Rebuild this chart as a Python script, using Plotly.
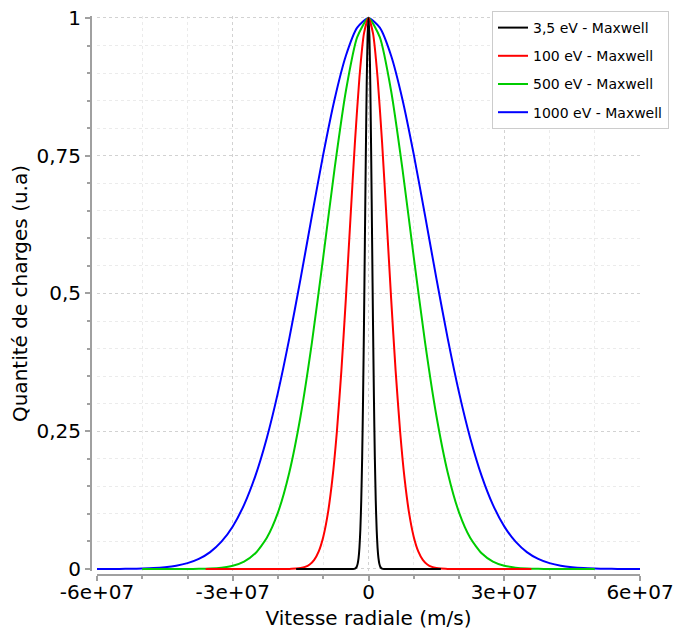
import plotly.graph_objects as go

# ---------------- data ----------------
x_black = [-1.6e7, -1.0e7, -5.0e6,
           -3.6e6, -3.4e6, -3.2e6, -3.0e6, -2.8e6, -2.6e6, -2.4e6, -2.2e6, -2.0e6,
           -1.8e6, -1.6e6, -1.4e6, -1.2e6, -1.0e6, -8.0e5, -6.0e5, -4.0e5, -2.0e5,
           0.0,
           2.0e5, 4.0e5, 6.0e5, 8.0e5, 1.0e6, 1.2e6, 1.4e6, 1.6e6, 1.8e6,
           2.0e6, 2.2e6, 2.4e6, 2.6e6, 2.8e6, 3.0e6, 3.2e6, 3.4e6, 3.6e6,
           5.0e6, 1.0e7, 1.6e7]
y_black = [0, 0, 0,
           0, 0.0001, 0.0002, 0.0007, 0.0017, 0.0041, 0.0093, 0.0196, 0.0388,
           0.0719, 0.1249, 0.2034, 0.3104, 0.4438, 0.5945, 0.7464, 0.8781, 0.9680,
           1.0,
           0.9680, 0.8781, 0.7464, 0.5945, 0.4438, 0.3104, 0.2034, 0.1249, 0.0719,
           0.0388, 0.0196, 0.0093, 0.0041, 0.0017, 0.0007, 0.0002, 0.0001, 0,
           0, 0, 0]

x_red = [-3.6e7, -3.0e7, -2.5e7,
         -2.0e7, -1.9e7, -1.8e7, -1.7e7, -1.6e7, -1.5e7, -1.4e7, -1.3e7, -1.2e7, -1.1e7,
         -1.0e7, -9.0e6, -8.0e6, -7.0e6, -6.0e6, -5.0e6, -4.0e6, -3.0e6, -2.0e6, -1.0e6,
         0.0,
         1.0e6, 2.0e6, 3.0e6, 4.0e6, 5.0e6, 6.0e6, 7.0e6, 8.0e6, 9.0e6, 1.0e7,
         1.1e7, 1.2e7, 1.3e7, 1.4e7, 1.5e7, 1.6e7, 1.7e7, 1.8e7, 1.9e7, 2.0e7,
         2.5e7, 3.0e7, 3.6e7]
y_red = [0, 0, 0,
         0, 0, 0.0001, 0.0003, 0.0007, 0.0017, 0.0038, 0.0082, 0.0167, 0.0320,
         0.0582, 0.0999, 0.1620, 0.2482, 0.3592, 0.4912, 0.6344, 0.7742, 0.8925, 0.9720,
         1.0,
         0.9720, 0.8925, 0.7742, 0.6344, 0.4912, 0.3592, 0.2482, 0.1620, 0.0999, 0.0582,
         0.0320, 0.0167, 0.0082, 0.0038, 0.0017, 0.0007, 0.0003, 0.0001, 0, 0,
         0, 0, 0]

x_green = [-5.0e7, -4.5e7,
           -4.0e7, -3.75e7, -3.5e7, -3.25e7, -3.0e7, -2.75e7, -2.5e7, -2.25e7,
           -2.0e7, -1.75e7, -1.5e7, -1.25e7, -1.0e7, -7.5e6, -5.0e6, -2.5e6,
           0.0,
           2.5e6, 5.0e6, 7.5e6, 1.0e7, 1.25e7, 1.5e7, 1.75e7, 2.0e7,
           2.25e7, 2.5e7, 2.75e7, 3.0e7, 3.25e7, 3.5e7, 3.75e7, 4.0e7,
           4.5e7, 5.0e7]
y_green = [0, 0,
           0.0001, 0.0003, 0.0009, 0.0025, 0.0060, 0.0136, 0.0286, 0.0562,
           0.1028, 0.1752, 0.2781, 0.4112, 0.5662, 0.7262, 0.8675, 0.9651,
           1.0,
           0.9651, 0.8675, 0.7262, 0.5662, 0.4112, 0.2781, 0.1752, 0.1028,
           0.0562, 0.0286, 0.0136, 0.0060, 0.0025, 0.0009, 0.0003, 0.0001,
           0, 0]

x_blue = [-6.0e7, -5.75e7, -5.5e7, -5.25e7, -5.0e7, -4.75e7, -4.5e7, -4.25e7,
          -4.0e7, -3.75e7, -3.5e7, -3.25e7, -3.0e7, -2.75e7, -2.5e7, -2.25e7,
          -2.0e7, -1.75e7, -1.5e7, -1.25e7, -1.0e7, -7.5e6, -5.0e6, -2.5e6,
          0.0,
          2.5e6, 5.0e6, 7.5e6, 1.0e7, 1.25e7, 1.5e7, 1.75e7, 2.0e7,
          2.25e7, 2.5e7, 2.75e7, 3.0e7, 3.25e7, 3.5e7, 3.75e7, 4.0e7,
          4.25e7, 4.5e7, 4.75e7, 5.0e7, 5.25e7, 5.5e7, 5.75e7, 6.0e7]
y_blue = [0, 0.0001, 0.0002, 0.0004, 0.0008, 0.0016, 0.0032, 0.0059,
          0.0106, 0.0183, 0.0307, 0.0496, 0.0773, 0.1164, 0.1691, 0.2370,
          0.3206, 0.4186, 0.5274, 0.6413, 0.7525, 0.8522, 0.9314, 0.9824,
          1.0,
          0.9824, 0.9314, 0.8522, 0.7525, 0.6413, 0.5274, 0.4186, 0.3206,
          0.2370, 0.1691, 0.1164, 0.0773, 0.0496, 0.0307, 0.0183, 0.0106,
          0.0059, 0.0032, 0.0016, 0.0008, 0.0004, 0.0002, 0.0001, 0]

series_names = ["3,5 eV - Maxwell", "100 eV - Maxwell", "500 eV - Maxwell", "1000 eV - Maxwell"]
series_colors = ["#000000", "#ff0000", "#00cc00", "#0000ff"]

x_tick_vals = [-6e7, -3e7, 0, 3e7, 6e7]
x_tick_labels = ["-6e+07", "-3e+07", "0", "3e+07", "6e+07"]
y_tick_vals = [0, 0.25, 0.5, 0.75, 1]
y_tick_labels = ["0", "0,25", "0,5", "0,75", "1"]

# ---------------- figure ----------------
FONT = "DejaVu Sans"
AX = "#a0a0a0"
GRID_MAJOR = "#d2d2d2"
GRID_MINOR = "#ebebeb"

fig = go.Figure()
xs = [x_black, x_red, x_green, x_blue]
ys = [y_black, y_red, y_green, y_blue]
# draw widest first so the narrow (black) curve ends up on top; legend order via legendrank
for i in [3, 2, 1, 0]:
    fig.add_trace(go.Scatter(
        x=xs[i], y=ys[i], mode="lines", name=series_names[i],
        legendgroup=series_names[i], legendrank=i + 1,
        line=dict(color=series_colors[i], width=2, shape="spline", smoothing=0.6),
    ))

W, H = 675, 635
ml, mr, mt, mb = 91, 35, 16, 60
pw = W - ml - mr
ph = H - mt - mb
gap = 6
ypad = 0.003
y_top_px = 18.0          # pixel of y = 1
y_bot_px = 569.0         # pixel of y = 0
unit = y_bot_px - y_top_px
dom_top_px = y_top_px - ypad * unit
dom_bot_px = y_bot_px + ypad * unit
axis_px = H - mb
ydom = [(axis_px - dom_bot_px) / ph, 1 - (dom_top_px - mt) / ph]

fig.update_layout(
    width=W, height=H,
    margin=dict(l=ml, r=mr, t=mt, b=mb, autoexpand=False),
    paper_bgcolor="white", plot_bgcolor="white",
    font=dict(family=FONT, size=20, color="black"),
    showlegend=True,
    legend=dict(
        x=(492 - ml) / pw, y=(axis_px - 11) / ph, xanchor="left", yanchor="top",
        bgcolor="white", bordercolor="#cccccc", borderwidth=1,
        font=dict(family=FONT, size=14, color="black"),
        traceorder="grouped", tracegroupgap=7,
    ),
    xaxis=dict(
        domain=[gap / pw, 1], anchor="free", position=0,
        range=[-6e7, 6e7], tickmode="array", tickvals=x_tick_vals, ticktext=x_tick_labels,
        showline=True, linecolor=AX, linewidth=2,
        ticks="outside", ticklen=5, tickwidth=2, tickcolor=AX,
        ticklabelstandoff=-6,
        showgrid=True, gridcolor=GRID_MAJOR, griddash="dot", gridwidth=1,
        zeroline=False,
        minor=dict(dtick=1e7, tick0=0, ticks="outside", ticklen=3, tickwidth=2, tickcolor=AX,
                   showgrid=True, gridcolor=GRID_MINOR, griddash="dot", gridwidth=1),
        tickfont=dict(family=FONT, size=20, color="black"),
        title=dict(text="Vitesse radiale (m/s)", standoff=7,
                   font=dict(family=FONT, size=20, color="black")),
    ),
    yaxis=dict(
        domain=ydom, anchor="free", position=0,
        range=[-ypad, 1 + ypad], tickmode="array", tickvals=y_tick_vals, ticktext=y_tick_labels,
        showline=True, linecolor=AX, linewidth=2,
        ticks="outside", ticklen=5, tickwidth=2, tickcolor=AX,
        showgrid=True, gridcolor=GRID_MAJOR, griddash="dot", gridwidth=1,
        zeroline=False,
        minor=dict(dtick=0.05, tick0=0, ticks="outside", ticklen=3, tickwidth=2, tickcolor=AX,
                   showgrid=True, gridcolor=GRID_MINOR, griddash="dot", gridwidth=1),
        tickfont=dict(family=FONT, size=20, color="black"),
        title=dict(text="Quantité de charges (u.a)", standoff=2,
                   font=dict(family=FONT, size=20, color="black")),
    ),
)

fig.write_html("out.html", config={"displayModeBar": False},
               post_script="document.body.style.margin='0';")
